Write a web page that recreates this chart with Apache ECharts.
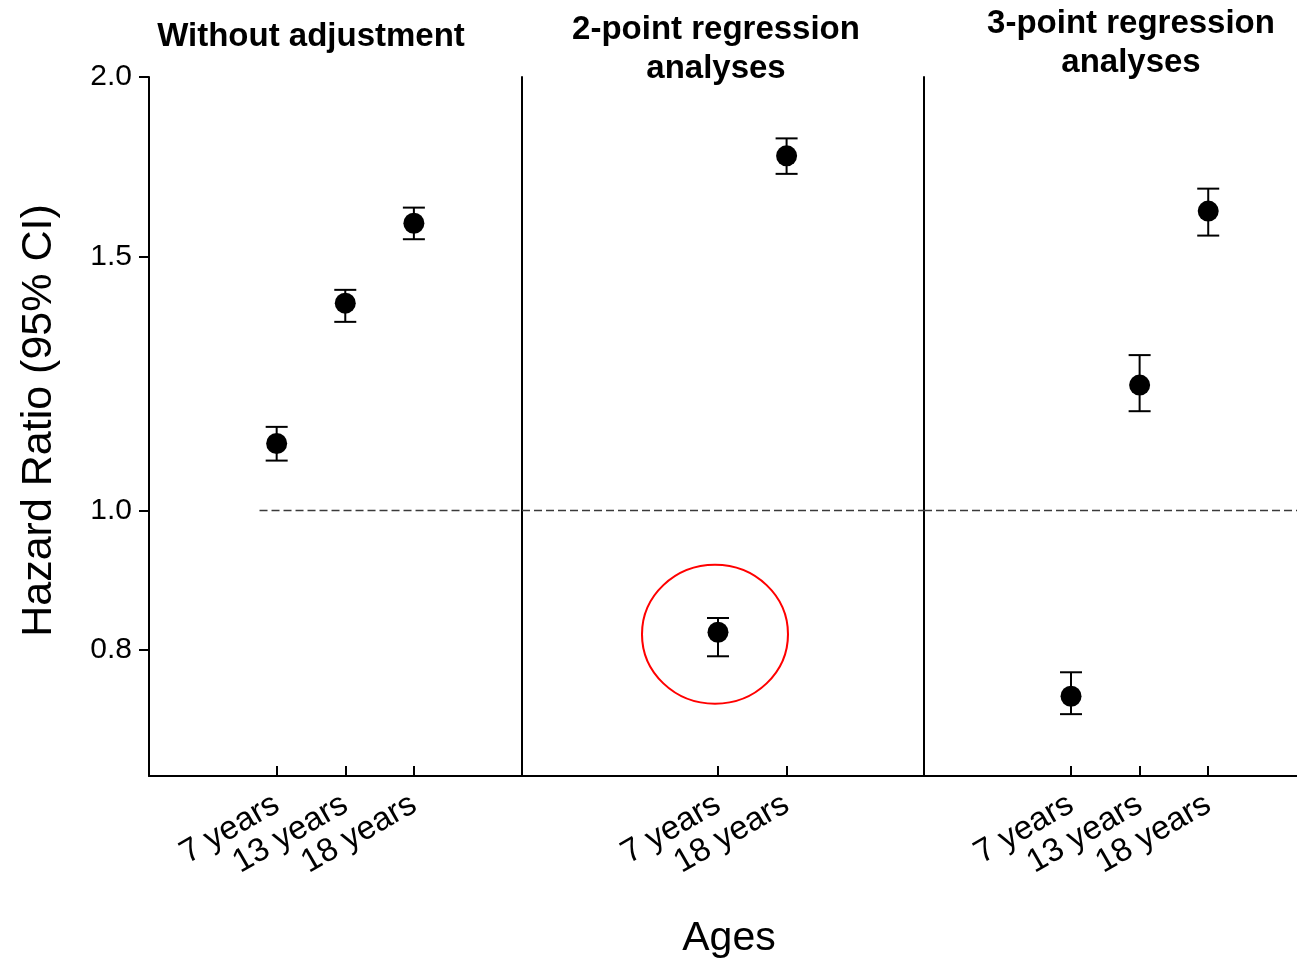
<!DOCTYPE html>
<html><head><meta charset="utf-8">
<script src="https://cdn.jsdelivr.net/npm/echarts@6/dist/echarts.min.js"></script>
<style>html,body{margin:0;padding:0;background:#fff}#main{width:1297px;height:963px}</style>
</head><body><div id="main"></div>
<script>
// ---- data ----
const panelTitles = ['Without adjustment', '2-point regression\nanalyses', '3-point regression\nanalyses'];
const panel1Ages = ['7 years', '13 years', '18 years'];
const panel1HR = [1.113, 1.393, 1.583];
const panel1Lower = [1.083, 1.352, 1.543];
const panel1Upper = [1.143, 1.423, 1.623];
const panel2Ages = ['7 years', '18 years'];
const panel2HR = [0.823, 1.763];
const panel2Lower = [0.792, 1.713];
const panel2Upper = [0.842, 1.813];
const panel3Ages = ['7 years', '13 years', '18 years'];
const panel3HR = [0.743, 1.222, 1.614];
const panel3Lower = [0.722, 1.172, 1.552];
const panel3Upper = [0.772, 1.282, 1.673];
const yTickValues = [0.8, 1.0, 1.5, 2.0];
const referenceHR = 1.0;
const circledPanel = 1, circledIndex = 0;

// ---- build ----
const LN = Math.log;
const FONT = '"Liberation Sans", Arial, Helvetica, sans-serif';
const yMin = 0.654, yMax = 2.0;
const panels = [
  {ages: panel1Ages, hr: panel1HR, lo: panel1Lower, hi: panel1Upper},
  {ages: panel2Ages, hr: panel2HR, lo: panel2Lower, hi: panel2Upper},
  {ages: panel3Ages, hr: panel3HR, lo: panel3Lower, hi: panel3Upper}
];
const layout = [
  {left: 149, width: 373, xMin: -0.861, xMax: 4.576, refStart: 0.75},
  {left: 522, width: 402, xMin: -1.857, xMax: 4.003, refStart: -1.857},
  {left: 924, width: 373, xMin: -1.143, xMax: 4.294, refStart: -1.143}
];
const black = '#000';
const grids = [], xAxes = [], yAxes = [], series = [];
panels.forEach((p, i) => {
  const g = layout[i];
  const pos = p.ages.map((_, k) => k + 1);
  grids.push({left: g.left, width: g.width, top: 77, height: 699, containLabel: false, outerBoundsMode: 'none'});
  xAxes.push({
    type: 'value', gridIndex: i, min: g.xMin, max: g.xMax,
    axisLine: {show: true, onZero: false, lineStyle: {color: black, width: 2}},
    axisTick: {show: true, inside: true, length: 10, customValues: pos, lineStyle: {color: black, width: 2}},
    axisLabel: {show: true, customValues: pos, formatter: v => p.ages[Math.round(v) - 1],
      rotate: 30, fontSize: 33, color: black, fontFamily: FONT, margin: 26},
    splitLine: {show: false},
    name: i === 1 ? 'Ages' : '', nameLocation: 'middle', nameGap: 142,
    nameTextStyle: {fontSize: 41, color: black, fontFamily: FONT, padding: [0, 0, 0, 12]}
  });
  yAxes.push({
    type: 'value', gridIndex: i, min: LN(yMin), max: LN(yMax),
    axisLine: {show: true, onZero: false, lineStyle: {color: black, width: 2}},
    axisTick: {show: i === 0, length: 10, customValues: yTickValues.map(LN), lineStyle: {color: black, width: 2}},
    axisLabel: {show: i === 0, customValues: yTickValues.map(LN), formatter: v => Math.exp(v).toFixed(1),
      fontSize: 30, margin: 17, color: black, fontFamily: FONT},
    splitLine: {show: false},
    name: i === 0 ? 'Hazard Ratio (95% CI)' : '', nameLocation: 'middle', nameGap: 88,
    nameTextStyle: {fontSize: 43, color: black, fontFamily: FONT, padding: [0, 0, 0, 12]}
  });
  series.push({
    type: 'custom', coordinateSystem: 'cartesian2d', xAxisIndex: i, yAxisIndex: i,
    data: pos.map((x, k) => [x, LN(p.hr[k]), LN(p.lo[k]), LN(p.hi[k])]),
    renderItem: (params, api) => {
      const x = api.value(0);
      const t = api.coord([x, api.value(3)]);
      const b = api.coord([x, api.value(2)]);
      const hw = 11;
      const style = {stroke: black, lineWidth: 2, fill: null};
      return {type: 'group', children: [
        {type: 'line', shape: {x1: t[0], y1: t[1], x2: b[0], y2: b[1]}, style},
        {type: 'line', shape: {x1: t[0] - hw, y1: t[1], x2: t[0] + hw, y2: t[1]}, style},
        {type: 'line', shape: {x1: b[0] - hw, y1: b[1], x2: b[0] + hw, y2: b[1]}, style}
      ]};
    },
    z: 3
  });
  series.push({
    type: 'scatter', xAxisIndex: i, yAxisIndex: i,
    data: pos.map((x, k) => [x, LN(p.hr[k])]),
    symbol: 'circle', symbolSize: 21, itemStyle: {color: black, opacity: 1},
    z: 4,
    markLine: {
      silent: true, symbol: 'none', label: {show: false},
      lineStyle: {color: '#3a3a3a', width: 1.3, type: [8, 4]},
      data: [[{coord: [g.refStart, LN(referenceHR)]}, {coord: [g.xMax, LN(referenceHR)]}]]
    }
  });
  if (i === circledPanel) {
    series.push({
      type: 'scatter', xAxisIndex: i, yAxisIndex: i,
      data: [[pos[circledIndex], LN(p.hr[circledIndex])]],
      symbol: 'circle', symbolSize: [146, 139], symbolOffset: [-3, 2],
      itemStyle: {color: 'rgba(0,0,0,0)', borderColor: '#ff0000', borderWidth: 2, opacity: 1},
      z: 5, silent: true
    });
  }
});
const titleStyle = {fontSize: 33, fontWeight: 'bold', fontFamily: FONT, color: black, lineHeight: 39};
const option = {
  animation: false,
  backgroundColor: '#fff',
  title: [
    {text: panelTitles[0], left: 311, top: 17, textAlign: 'center', padding: 0, textStyle: titleStyle},
    {text: panelTitles[1], left: 716, top: 10, textAlign: 'center', padding: 0, textStyle: titleStyle},
    {text: panelTitles[2], left: 1131, top: 4, textAlign: 'center', padding: 0, textStyle: titleStyle}
  ],
  grid: grids, xAxis: xAxes, yAxis: yAxes, series: series
};
const chart = echarts.init(document.getElementById('main'), null, {renderer: 'canvas'});
chart.setOption(option);
</script>
</body></html>
